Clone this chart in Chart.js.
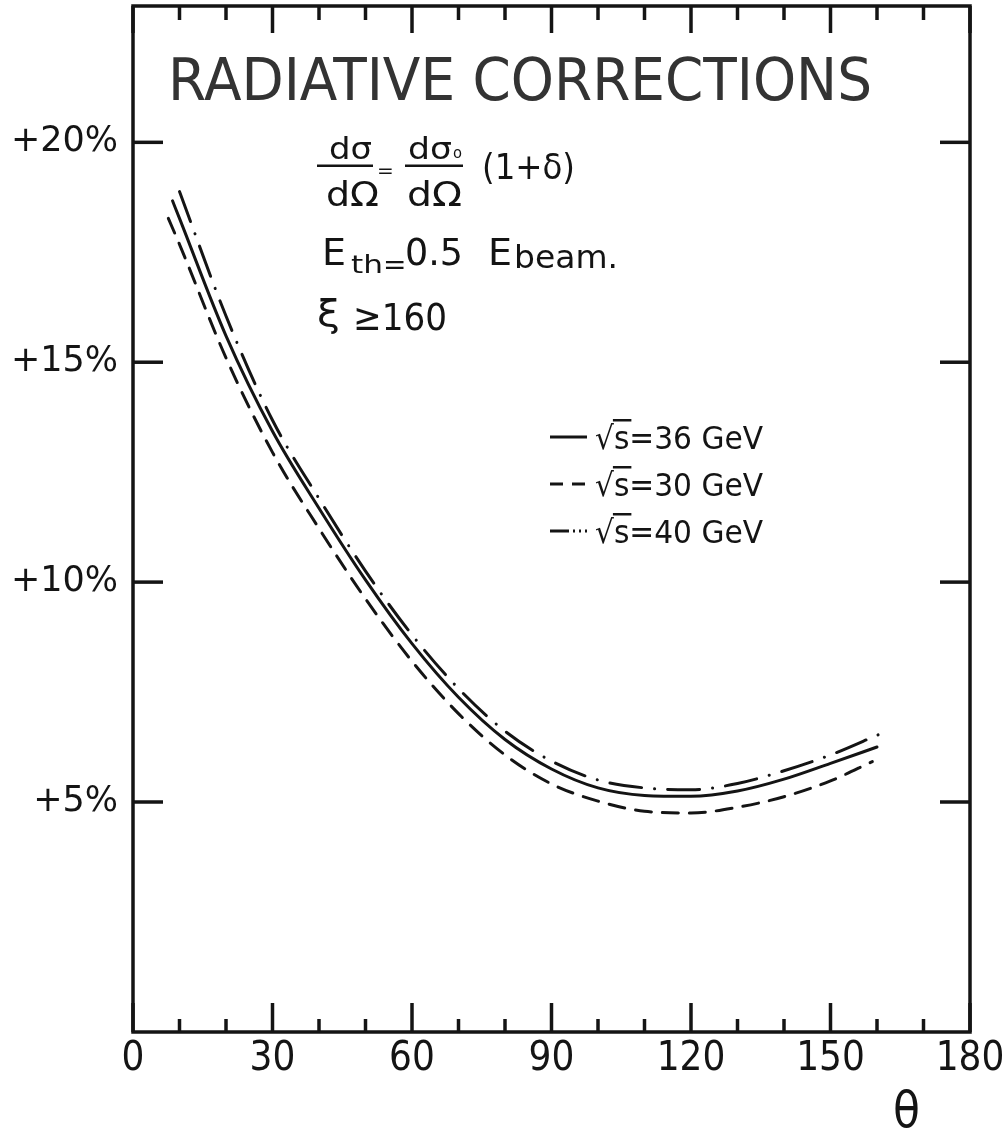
<!DOCTYPE html>
<html lang="en">
<head>
  <meta charset="UTF-8" />
  <title>Radiative corrections</title>
  <script src="https://cdn.jsdelivr.net/npm/chart.js"></script>
  <style>
    html, body { margin: 0; padding: 0; background: #fff; }
    canvas { display: block; }
  </style>
</head>
<body>
  <canvas id="radChart" width="1007" height="1131"></canvas>
  <script>
    // correction delta (%) against scattering angle theta (deg), one pair per sqrt(s)
    const theta36 = [8.5, 10, 20, 30, 40, 50, 60, 70, 80, 90, 100, 110, 120, 130, 140, 150, 160];
    const delta36 = [18.67, 18.27, 15.6, 13.43, 11.68, 10.05, 8.6, 7.38, 6.42, 5.75, 5.32, 5.15, 5.13, 5.25, 5.52, 5.88, 6.25];

    const theta30 = [7.6, 10, 20, 30, 40, 50, 60, 70, 80, 90, 100, 110, 120, 130, 140, 150, 159];
    const delta30 = [18.27, 17.68, 15.1, 12.95, 11.22, 9.62, 8.2, 7.01, 6.07, 5.41, 5.02, 4.79, 4.75, 4.88, 5.12, 5.48, 5.92];

    const theta40 = [10, 20, 30, 40, 50, 60, 70, 80, 90, 100, 110, 120, 130, 140, 150, 160.5];
    const delta40 = [18.88, 16.05, 13.68, 11.9, 10.25, 8.8, 7.58, 6.61, 5.93, 5.5, 5.32, 5.28, 5.42, 5.71, 6.07, 6.54];

    const seriesLabels = ['√s=36 GeV', '√s=30 GeV', '√s=40 GeV'];

    const thetaLabels = [0, 30, 60, 90, 120, 150, 180];
    const thetaMinor = [10, 20, 40, 50, 70, 80, 100, 110, 130, 140, 160, 170];
    const deltaLabels = [5, 10, 15, 20];

    const INK = '#141414';
    const FONT = '"DejaVu Sans", sans-serif';
    const NARROW = '"DejaVu Sans Condensed", "DejaVu Sans", sans-serif';

    function toPoints(xs, ys) {
      return xs.map((x, i) => ({ x: x, y: ys[i] }));
    }

    // left-aligned text on the baseline, squeezed to a given width if asked
    function label(ctx, str, x, y, size, width) {
      ctx.font = size + 'px ' + FONT;
      const w = ctx.measureText(str).width;
      const k = width ? width / w : 1;
      ctx.save();
      ctx.translate(x, y);
      ctx.scale(k, 1);
      ctx.fillText(str, 0, 0);
      ctx.restore();
      return k;
    }

    const paper = {
      id: 'paper',
      beforeDraw(chart) {
        const ctx = chart.ctx;
        ctx.save();
        ctx.fillStyle = '#fff';
        ctx.fillRect(0, 0, chart.width, chart.height);
        ctx.restore();
      }
    };

    // box round the plot with inward ticks on all four sides
    const frame = {
      id: 'frame',
      afterDraw(chart) {
        const { ctx, chartArea: a, scales: { x, y } } = chart;
        ctx.save();
        ctx.strokeStyle = INK;
        ctx.lineWidth = 3.5;
        ctx.strokeRect(a.left, a.top, a.right - a.left, a.bottom - a.top);
        const seg = (x1, y1, x2, y2) => {
          ctx.beginPath();
          ctx.moveTo(x1, y1);
          ctx.lineTo(x2, y2);
          ctx.stroke();
        };
        thetaLabels.forEach(v => {
          const px = x.getPixelForValue(v);
          seg(px, a.bottom, px, a.bottom - 29);
          seg(px, a.top, px, a.top + 27);
        });
        thetaMinor.forEach(v => {
          const px = x.getPixelForValue(v);
          seg(px, a.bottom, px, a.bottom - 13);
          seg(px, a.top, px, a.top + 14);
        });
        deltaLabels.forEach(v => {
          const py = y.getPixelForValue(v);
          seg(a.left, py, a.left + 30, py);
          seg(a.right, py, a.right - 30, py);
        });
        ctx.restore();
      }
    };

    const legendBaselines = [449, 496, 543];
    const legendDash = [[], [13, 9], [19, 4, 2, 4, 2, 4, 5, 100]];

    const notes = {
      id: 'notes',
      afterDraw(chart) {
        const ctx = chart.ctx;
        ctx.save();
        ctx.textAlign = 'left';
        ctx.textBaseline = 'alphabetic';

        ctx.fillStyle = '#333';
        label(ctx, 'RADIATIVE CORRECTIONS', 168, 100, 58, 704);

        ctx.fillStyle = INK;
        // dσ/dΩ = dσo/dΩ (1+δ)
        label(ctx, 'dσ', 329, 159, 30, 43);
        label(ctx, 'dΩ', 326, 206, 34, 53);
        ctx.fillRect(317, 164.5, 56, 2.5);
        label(ctx, '=', 377, 177, 20);
        label(ctx, 'dσ', 408, 159, 30, 44);
        label(ctx, 'o', 453, 158, 16, 9);
        label(ctx, 'dΩ', 407, 206, 34, 55);
        ctx.fillRect(405, 164.5, 58, 2.5);
        label(ctx, '(1+δ)', 482, 179, 36, 93);

        // threshold energy line
        label(ctx, 'E', 322, 265, 38, 24);
        label(ctx, 'th', 351, 273, 25, 32);
        label(ctx, '=', 383, 274, 28);
        label(ctx, '0.5', 405, 265, 38, 58);
        label(ctx, 'E', 488, 265, 38, 24);
        label(ctx, 'beam.', 514, 268, 32, 104);

        label(ctx, 'ξ', 317, 326, 38, 23);
        label(ctx, '≥160', 353, 330, 38, 94);

        // key
        chart.data.datasets.forEach((ds, i) => {
          const base = legendBaselines[i];
          ctx.save();
          ctx.strokeStyle = INK;
          ctx.lineWidth = 3;
          ctx.setLineDash(legendDash[i]);
          ctx.beginPath();
          ctx.moveTo(550, base - 12);
          ctx.lineTo(587, base - 12);
          ctx.stroke();
          ctx.restore();
          const k = label(ctx, ds.label, 595, base, 32, 168);
          ctx.font = '32px ' + FONT;
          const r = ctx.measureText('√').width * k;
          const s = ctx.measureText('s').width * k;
          ctx.fillRect(595 + r - 1, base - 30, s + 3, 2.5);
        });

        label(ctx, 'θ', 893, 1127, 50, 27);
        ctx.restore();
      }
    };

    const styles = [
      { borderDash: [] },
      { borderDash: [16, 11] },
      { borderDash: [32, 13, 0.1, 13] }
    ];
    const series = [[theta36, delta36], [theta30, delta30], [theta40, delta40]];

    new Chart(document.getElementById('radChart'), {
      type: 'scatter',
      data: {
        datasets: series.map((s, i) => Object.assign({
          label: seriesLabels[i],
          data: toPoints(s[0], s[1]),
          showLine: true,
          borderColor: INK,
          borderWidth: 3,
          borderCapStyle: 'round',
          pointRadius: 0,
          tension: 0.4,
          cubicInterpolationMode: 'monotone',
          fill: false
        }, styles[i]))
      },
      options: {
        responsive: false,
        animation: false,
        devicePixelRatio: 1,
        events: [],
        layout: { padding: { top: 6, right: 37, bottom: 0, left: 0 } },
        plugins: { legend: { display: false }, tooltip: { enabled: false } },
        scales: {
          x: {
            type: 'linear',
            min: 0,
            max: 180,
            grid: { display: false, drawTicks: false },
            border: { display: false },
            ticks: { color: INK, padding: 4, autoSkip: false, maxRotation: 0, font: { family: NARROW, size: 40 } },
            afterBuildTicks(scale) { scale.ticks = thetaLabels.map(v => ({ value: v })); },
            afterFit(scale) { scale.height = 99; scale.paddingLeft = 0; scale.paddingRight = 0; }
          },
          y: {
            type: 'linear',
            min: -0.23,
            max: 23.1,
            grid: { display: false, drawTicks: false },
            border: { display: false },
            ticks: { color: INK, padding: 15, font: { family: FONT, size: 35 }, callback: v => '+' + v + '%' },
            afterBuildTicks(scale) { scale.ticks = deltaLabels.map(v => ({ value: v })); },
            afterFit(scale) { scale.width = 133; scale.paddingTop = 0; scale.paddingBottom = 0; }
          }
        }
      },
      plugins: [paper, frame, notes]
    });
  </script>
</body>
</html>
